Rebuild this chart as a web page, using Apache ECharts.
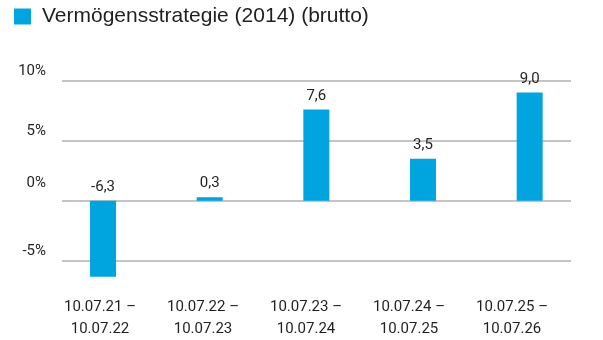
<!DOCTYPE html>
<html>
<head>
<meta charset="utf-8">
<script src="https://cdn.jsdelivr.net/npm/echarts@6/dist/echarts.min.js"></script>
<style>
  html, body { margin: 0; padding: 0; background: #fff; }
  #chart { width: 603px; height: 340px; }
</style>
</head>
<body>
<div id="chart"></div>
<script>
// Period returns of the strategy, in percent
const seriesName = 'Vermögensstrategie (2014) (brutto)';
const periods = [
  '10.07.21 –\n10.07.22',
  '10.07.22 –\n10.07.23',
  '10.07.23 –\n10.07.24',
  '10.07.24 –\n10.07.25',
  '10.07.25 –\n10.07.26'
];
const returns = [-6.3, 0.3, 7.6, 3.5, 9.0];
const yTicks = [-5, 0, 5, 10];

const BAR = '#00a5df';
const TEXT = '#1f1f1f';
const yMin = yTicks[0], yMax = yTicks[yTicks.length - 1];
const plotTop = 80.5, plotHeight = 180.5;

const chart = echarts.init(document.getElementById('chart'), null, { renderer: 'canvas' });

chart.setOption({
  animation: false,
  backgroundColor: '#fff',
  legend: {
    show: true,
    left: 14,
    top: 6,
    padding: 0,
    icon: 'rect',
    itemWidth: 17,
    itemHeight: 16,
    itemGap: 10,
    textStyle: { fontFamily: 'Liberation Sans', fontSize: 21, color: TEXT, padding: [0, 0, 0, 6] },
    data: [seriesName]
  },
  grid: [
    // bars
    { left: 49.7, width: 533.3, top: plotTop, height: plotHeight },
    // category labels
    { left: 48.5, width: 515, top: plotTop, height: plotHeight },
    // value axis labels and grid lines
    { left: 62, width: 509, top: plotTop, height: plotHeight }
  ],
  xAxis: [
    { gridIndex: 0, type: 'category', data: periods, show: false },
    {
      gridIndex: 1, type: 'category', data: periods,
      axisLine: { show: false }, axisTick: { show: false }, splitLine: { show: false },
      axisLabel: {
        margin: 36, fontFamily: 'Roboto', fontSize: 15, color: TEXT,
        lineHeight: 21.7, align: 'center', interval: 0
      }
    },
    { gridIndex: 2, type: 'value', show: false }
  ],
  yAxis: [
    { gridIndex: 0, type: 'value', min: yMin, max: yMax, interval: 5, show: false },
    { gridIndex: 1, type: 'value', min: yMin, max: yMax, interval: 5, show: false },
    {
      gridIndex: 2, type: 'value', min: yMin, max: yMax, interval: 5,
      axisLine: { show: false }, axisTick: { show: false },
      splitLine: { show: true, lineStyle: { color: '#c4c4c4', width: 2 } },
      axisLabel: {
        margin: 16, fontFamily: 'Roboto', fontSize: 15, color: TEXT,
        verticalAlign: 'bottom',
        formatter: v => v === 0 ? '{z|0%}' : '{n|' + v + '%}',
        rich: {
          n: { fontFamily: 'Roboto', fontSize: 15, color: TEXT, padding: [0, 0, 2, 0] },
          z: { fontFamily: 'Roboto', fontSize: 15, color: TEXT, padding: [0, 0, 10, 0] }
        }
      }
    }
  ],
  series: [
    {
      name: seriesName,
      type: 'bar',
      xAxisIndex: 0,
      yAxisIndex: 0,
      data: returns,
      barWidth: 26,
      clip: false,
      itemStyle: { color: BAR },
      label: {
        show: true,
        position: 'top',
        distance: 6,
        fontFamily: 'Roboto',
        fontSize: 15,
        color: TEXT,
        formatter: p => p.value.toFixed(1).replace('.', ',')
      }
    }
  ]
});
</script>
</body>
</html>
